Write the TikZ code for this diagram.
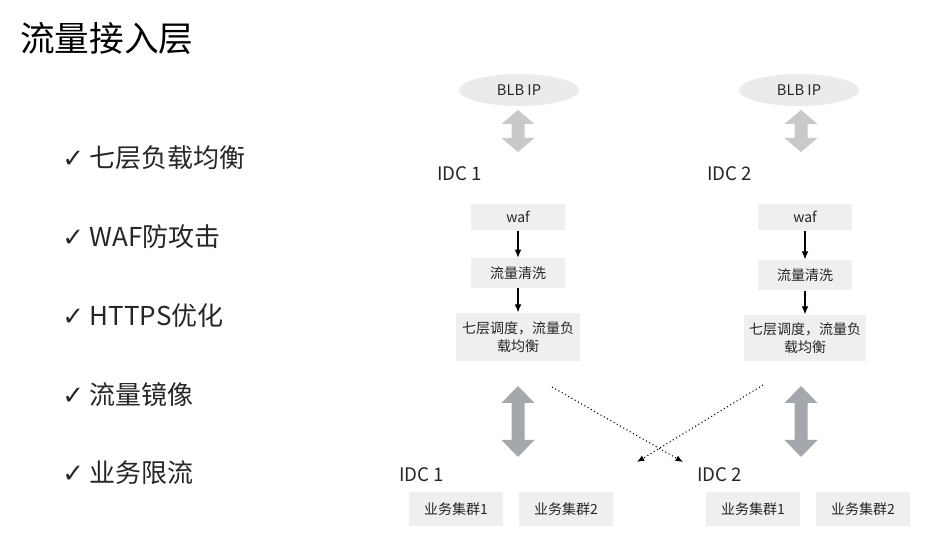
\documentclass[tikz,border=0pt]{standalone}
\usepackage{fontspec}
\setmainfont{Noto Sans CJK SC}
\newfontfamily\symfont{DejaVu Sans}
\usetikzlibrary{arrows.meta,shapes.geometric}
\definecolor{boxgray}{HTML}{EFEFEF}
\definecolor{ellgray}{HTML}{EBEBEB}
\definecolor{lightarr}{HTML}{C8C9CB}
\definecolor{darkarr}{HTML}{A4A7AB}
\newcommand{\myDArrow}[6]{% name, cx, ytop, ybot, headlen, color
  \fill[#6] (#2,#3) -- (#2+16.5,#3+#5) -- (#2+6.5,#3+#5) -- (#2+6.5,#4-#5) -- (#2+16.5,#4-#5)
    -- (#2,#4) -- (#2-16.5,#4-#5) -- (#2-6.5,#4-#5) -- (#2-6.5,#3+#5) -- (#2-16.5,#3+#5) -- cycle;
  \coordinate (#1) at (#2,{(#3+#4)/2});}
\begin{document}
\begin{tikzpicture}[x=0.75pt,y=-0.75pt,
  stagebox/.style={fill=boxgray,inner sep=0pt,align=center,font=\fontsize{10.5}{13}\selectfont,text=black!85},
  blb/.style={ellipse,fill=ellgray,minimum width=90pt,minimum height=24pt,inner sep=0pt,font=\fontsize{11}{13}\selectfont,text=black!85},
  idc/.style={anchor=west,inner sep=0pt,font=\fontsize{14}{16}\selectfont,text=black!85},
  item/.style={anchor=west,inner sep=0pt,font=\fontsize{19.5}{22}\selectfont,text=black!85},
  flow/.style={-{Latex[length=6pt,width=5pt]},line width=0.8pt},
  mirror/.style={-{Latex[length=5.5pt,width=4.5pt]},dotted,line width=0.8pt}]
\useasboundingbox (0,0) rectangle (940,545);
% title
\node[anchor=west,inner sep=0pt,font=\fontsize{26}{30}\selectfont] (title) at (20,38) {流量接入层};
% checklist
\node[item] (i1) at (62,158) {{\symfont\bfseries ✓} 七层负载均衡};
\node[item] (i2) at (62,237) {{\symfont\bfseries ✓} WAF防攻击};
\node[item] (i3) at (62,316) {{\symfont\bfseries ✓} HTTPS优化};
\node[item] (i4) at (62,395) {{\symfont\bfseries ✓} 流量镜像};
\node[item] (i5) at (62,473) {{\symfont\bfseries ✓} 业务限流};
% BLB ellipses
\node[blb] (blb1) at (519,90) {BLB IP};
\node[blb] (blb2) at (799,90) {BLB IP};
% top arrows
\myDArrow{ta1}{518}{110}{152}{14}{lightarr}
\myDArrow{ta2}{801}{110}{152}{14}{lightarr}
% IDC labels
\node[idc] (idcA) at (437,174) {IDC 1};
\node[idc] (idcB) at (707,174) {IDC 2};
% left stack
\node[stagebox,minimum width=70pt,minimum height=20pt] (waf1) at (518,217) {waf};
\node[stagebox,minimum width=70pt,minimum height=22.5pt] (clean1) at (518,273) {流量清洗};
\node[stagebox,minimum width=93pt,minimum height=36.5pt] (lb1) at (518,337) {七层调度，流量负\\载均衡};
\draw[flow] (waf1) -- (clean1);
\draw[flow] (clean1) -- (lb1);
% right stack
\node[stagebox,minimum width=70pt,minimum height=20pt] (waf2) at (805,217) {waf};
\node[stagebox,minimum width=70pt,minimum height=23pt] (clean2) at (805,275) {流量清洗};
\node[stagebox,minimum width=92pt,minimum height=35pt] (lb2) at (805,338) {七层调度，流量负\\载均衡};
\draw[flow] (waf2) -- (clean2);
\draw[flow] (clean2) -- (lb2);
% big arrows
\myDArrow{ba1}{518}{386}{457}{17}{darkarr}
\myDArrow{ba2}{801}{386}{457}{17}{darkarr}
% dotted mirror arrows
\coordinate (m1s) at (552,387);
\coordinate (m1e) at (683,462);
\coordinate (m2s) at (763,385);
\coordinate (m2e) at (637,462);
\draw[mirror] (m1s) -- (m1e);
\draw[mirror] (m2s) -- (m2e);
% bottom IDC labels
\node[idc] (idcC) at (399,475) {IDC 1};
\node[idc] (idcD) at (697,475) {IDC 2};
% bottom clusters
\node[stagebox,minimum width=70.5pt,minimum height=25pt] (c11) at (456,509) {业务集群1};
\node[stagebox,minimum width=71pt,minimum height=25pt] (c12) at (566,509) {业务集群2};
\node[stagebox,minimum width=70.5pt,minimum height=25pt] (c21) at (753,509) {业务集群1};
\node[stagebox,minimum width=70.5pt,minimum height=25pt] (c22) at (863,509) {业务集群2};
\end{tikzpicture}
\end{document}
